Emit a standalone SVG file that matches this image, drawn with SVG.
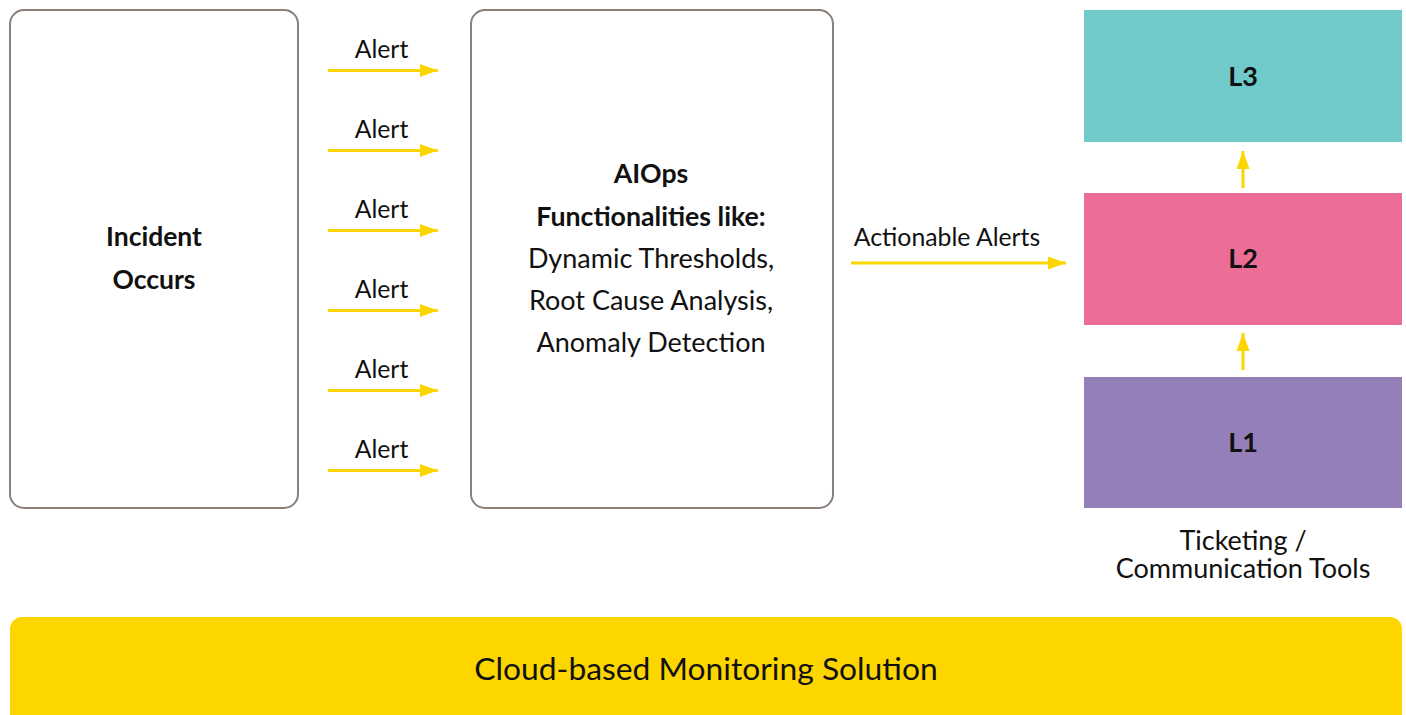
<svg xmlns="http://www.w3.org/2000/svg" width="1406" height="715" viewBox="0 0 1406 715">
<defs>
<marker id="ah" markerWidth="18" markerHeight="13" refX="18" refY="6.5" orient="auto" markerUnits="userSpaceOnUse">
<path d="M0,0 L18,6.5 L0,13 Z" fill="#fdd600"/>
</marker>
<style>
.box{fill:#fff;stroke:#8a8079;stroke-width:2}
.t{font-family:Lato,"Open Sans",sans-serif;fill:#111;text-anchor:middle}
.b{font-weight:bold}
.c{stroke:#fdd600;stroke-width:3;fill:none;marker-end:url(#ah)}
</style>
</defs>
<rect width="1406" height="715" fill="#fff"/>
<g id="incident">
<rect class="box" x="10" y="10" width="288" height="498" rx="14"/>
<text class="t b" x="154" y="246" font-size="26.5">Incident</text>
<text class="t b" x="154" y="289" font-size="26.5">Occurs</text>
</g>
<g id="aiops">
<rect class="box" x="471" y="10" width="362" height="498" rx="14"/>
<text class="t b" x="651" y="183" font-size="26.7">AIOps</text>
<text class="t b" x="651" y="226" font-size="26.7">Functionalities like:</text>
<text class="t" x="651" y="268" font-size="27">Dynamic Thresholds,</text>
<text class="t" x="651" y="310" font-size="27">Root Cause Analysis,</text>
<text class="t" x="651" y="352" font-size="27">Anomaly Detection</text>
</g>
<g id="l3">
<rect x="1084" y="10" width="318" height="132" fill="#70caca"/>
<text class="t b" x="1243" y="86" font-size="27">L3</text>
</g>
<g id="l2">
<rect x="1084" y="193" width="318" height="132" fill="#ec6e96"/>
<text class="t b" x="1243" y="268" font-size="27">L2</text>
</g>
<g id="l1">
<rect x="1084" y="377" width="318" height="131" fill="#947fb8"/>
<text class="t b" x="1243" y="452" font-size="27">L1</text>
</g>
<g id="tools">
<text class="t" x="1243" y="550" font-size="27">Ticketing /</text>
<text class="t" x="1243" y="578" font-size="27">Communication Tools</text>
</g>
<g id="cloud">
<rect x="10" y="617" width="1392" height="110" rx="12" fill="#fdd600"/>
<text class="t" x="706" y="680" font-size="31.8">Cloud-based Monitoring Solution</text>
</g>
<g id="connectors">
<line class="c" x1="328" y1="70.5" x2="438" y2="70.5"/>
<line class="c" x1="328" y1="150.5" x2="438" y2="150.5"/>
<line class="c" x1="328" y1="230.5" x2="438" y2="230.5"/>
<line class="c" x1="328" y1="310.5" x2="438" y2="310.5"/>
<line class="c" x1="328" y1="390.5" x2="438" y2="390.5"/>
<line class="c" x1="328" y1="470.5" x2="438" y2="470.5"/>
<line class="c" x1="851" y1="263" x2="1066" y2="263"/>
<line class="c" x1="1243" y1="188" x2="1243" y2="151"/>
<line class="c" x1="1243" y1="370" x2="1243" y2="333"/>
<text class="t" x="381.5" y="58" font-size="24.8">Alert</text>
<text class="t" x="381.5" y="138" font-size="24.8">Alert</text>
<text class="t" x="381.5" y="218" font-size="24.8">Alert</text>
<text class="t" x="381.5" y="298" font-size="24.8">Alert</text>
<text class="t" x="381.5" y="378" font-size="24.8">Alert</text>
<text class="t" x="381.5" y="458" font-size="24.8">Alert</text>
<text class="t" x="947" y="246" font-size="24.8">Actionable Alerts</text>
</g>
</svg>
